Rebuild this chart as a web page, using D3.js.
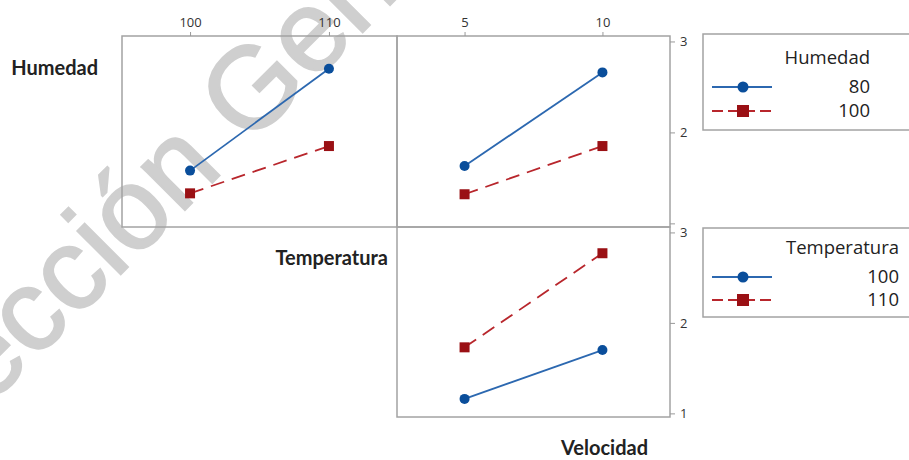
<!DOCTYPE html>
<html>
<head>
<meta charset="utf-8">
<script src="https://cdn.jsdelivr.net/npm/d3@7"></script>
<style>
  body { margin: 0; background: #fff; }
  svg { display: block; }
  .tick text { font-family: "Open Sans", sans-serif; font-size: 13px; fill: #333; }
  .tick line { stroke: #999; }
  .factor { font-family: Lato, sans-serif; font-weight: bold; font-size: 20px; fill: #222; }
  .leg { font-family: "Open Sans", sans-serif; font-size: 18.5px; fill: #222; }
</style>
</head>
<body>
<div id="chart"></div>
<script>
var svgWidth = 909;
var svgHeight = 460;

// factor levels
var tempLevels = ["100", "110"];
var velLevels = ["5", "10"];
var humLevels = ["80", "100"];
var yTicks = [1, 2, 3];

// means
// Humedad x Temperatura (one series per Humedad level)
var humTempMeans = [[1.58, 2.70], [1.33, 1.85]];
// Humedad x Velocidad
var humVelMeans = [[1.63, 2.66], [1.32, 1.85]];
// Temperatura x Velocidad (one series per Temperatura level)
var tempVelMeans = [[1.16, 1.70], [1.73, 2.77]];

var blueLine = "#2c68b0", blueMark = "#0a4e9b";
var redLine = "#b8262c", redMark = "#9a1014";

var svg = d3.select("#chart")
  .append("svg")
  .attr("width", svgWidth)
  .attr("height", svgHeight);

// faint watermark, sits behind the plot
var wmAngle = 45, wmSize = 116;
var wm = svg.append("text")
  .attr("font-family", "Liberation Sans, sans-serif")
  .attr("font-size", wmSize)
  .attr("fill", "#cfcfcf")
  .attr("stroke", "#cfcfcf")
  .attr("stroke-width", 2)
  .text("Dirección General");
var gStart = wm.node().getSubStringLength(0, 10);
var gWidth = wm.node().getSubStringLength(10, 1);
var gx = gStart + gWidth / 2, gy = -0.36 * wmSize;
var rad = wmAngle * Math.PI / 180;
var tx = 250 - (gx * Math.cos(rad) + gy * Math.sin(rad));
var ty = 86 - (-gx * Math.sin(rad) + gy * Math.cos(rad));
wm.attr("transform", `translate(${tx}, ${ty}) rotate(${-wmAngle})`);

// panel boxes
var col1 = [122, 397], col2 = [397, 670];
var row1 = [36, 227], row2 = [227, 417];

function yScale(row) {
  return d3.scaleLinear().domain([0.96, 3.06]).range([row[1], row[0]]);
}

function xScale(levels, col) {
  return d3.scalePoint().domain(levels).range(col).padding(0.49);
}

function drawPanel(col, row, levels, means, topAxis) {
  var x = xScale(levels, col);
  var y = yScale(row);
  var g = svg.append("g");

  g.append("rect")
    .attr("x", col[0]).attr("y", row[0])
    .attr("width", col[1] - col[0]).attr("height", row[1] - row[0])
    .attr("fill", "none").attr("stroke", "#a3a3a3").attr("stroke-width", 1.5);

  if (topAxis) {
    var ax = g.append("g")
      .attr("transform", `translate(0, ${row[0]})`)
      .call(d3.axisTop(x).tickSize(4).tickPadding(5));
    ax.select(".domain").remove();
  }

  var line = d3.line()
    .x((d, i) => x(levels[i]))
    .y(d => y(d));

  // red (second level) first, blue on top
  g.append("path")
    .datum(means[1])
    .attr("d", line)
    .attr("fill", "none")
    .attr("stroke", redLine)
    .attr("stroke-width", 1.8)
    .attr("stroke-dasharray", "14,8");

  g.append("path")
    .datum(means[0])
    .attr("d", line)
    .attr("fill", "none")
    .attr("stroke", blueLine)
    .attr("stroke-width", 1.8);

  g.selectAll("rect.pt")
    .data(means[1])
    .enter()
    .append("rect")
    .attr("class", "pt")
    .attr("x", (d, i) => x(levels[i]) - 5)
    .attr("y", d => y(d) - 5)
    .attr("width", 10).attr("height", 10)
    .attr("fill", redMark);

  g.selectAll("circle")
    .data(means[0])
    .enter()
    .append("circle")
    .attr("cx", (d, i) => x(levels[i]))
    .attr("cy", d => y(d))
    .attr("r", 5)
    .attr("fill", blueMark);
}

drawPanel(col1, row1, tempLevels, humTempMeans, true);
drawPanel(col2, row1, velLevels, humVelMeans, true);
drawPanel(col2, row2, velLevels, tempVelMeans, false);

// right y axes
[row1, row2].forEach(function(row, k) {
  var ay = svg.append("g")
    .attr("transform", `translate(${col2[1]}, 0)`)
    .call(d3.axisRight(yScale(row)).tickValues(yTicks).tickFormat(d3.format("d")).tickSize(5).tickPadding(5));
  ay.select(".domain").remove();
  // the top panel's "1" sits under the lower panel's "3"
  if (k === 0) ay.selectAll(".tick text").filter(d => d === 1).remove();
});

// factor names
svg.append("text").attr("class", "factor")
  .attr("x", 98).attr("y", 75).attr("text-anchor", "end").text("Humedad");
svg.append("text").attr("class", "factor")
  .attr("x", 388).attr("y", 265).attr("text-anchor", "end").text("Temperatura");
svg.append("text").attr("class", "factor")
  .attr("x", 648).attr("y", 455).attr("text-anchor", "end").text("Velocidad");

// legends
function drawLegend(top, bottom, title, labels, textRight, rowsY) {
  var lg = svg.append("g");
  lg.append("rect")
    .attr("x", 703).attr("y", top)
    .attr("width", 230).attr("height", bottom - top)
    .attr("fill", "#fff").attr("stroke", "#a3a3a3").attr("stroke-width", 1.5);

  lg.append("text").attr("class", "leg")
    .attr("x", textRight).attr("y", rowsY[0] + 6)
    .attr("text-anchor", "end").text(title);

  labels.forEach(function(lab, i) {
    var yy = rowsY[i + 1];
    lg.append("line")
      .attr("x1", 712).attr("x2", 772).attr("y1", yy).attr("y2", yy)
      .attr("stroke", i === 0 ? blueLine : redLine)
      .attr("stroke-width", 1.8)
      .attr("stroke-dasharray", i === 0 ? null : "11,5");
    if (i === 0) {
      lg.append("circle").attr("cx", 743).attr("cy", yy).attr("r", 5.5).attr("fill", blueMark);
    } else {
      lg.append("rect").attr("x", 737).attr("y", yy - 6).attr("width", 12).attr("height", 12).attr("fill", redMark);
    }
    lg.append("text").attr("class", "leg")
      .attr("x", textRight).attr("y", yy + 6)
      .attr("text-anchor", "end").text(lab);
  });
}

drawLegend(34, 130, "Humedad", humLevels, 870, [58, 87, 111]);
drawLegend(228, 317, "Temperatura", tempLevels, 899, [248, 277, 300]);
</script>
</body>
</html>
